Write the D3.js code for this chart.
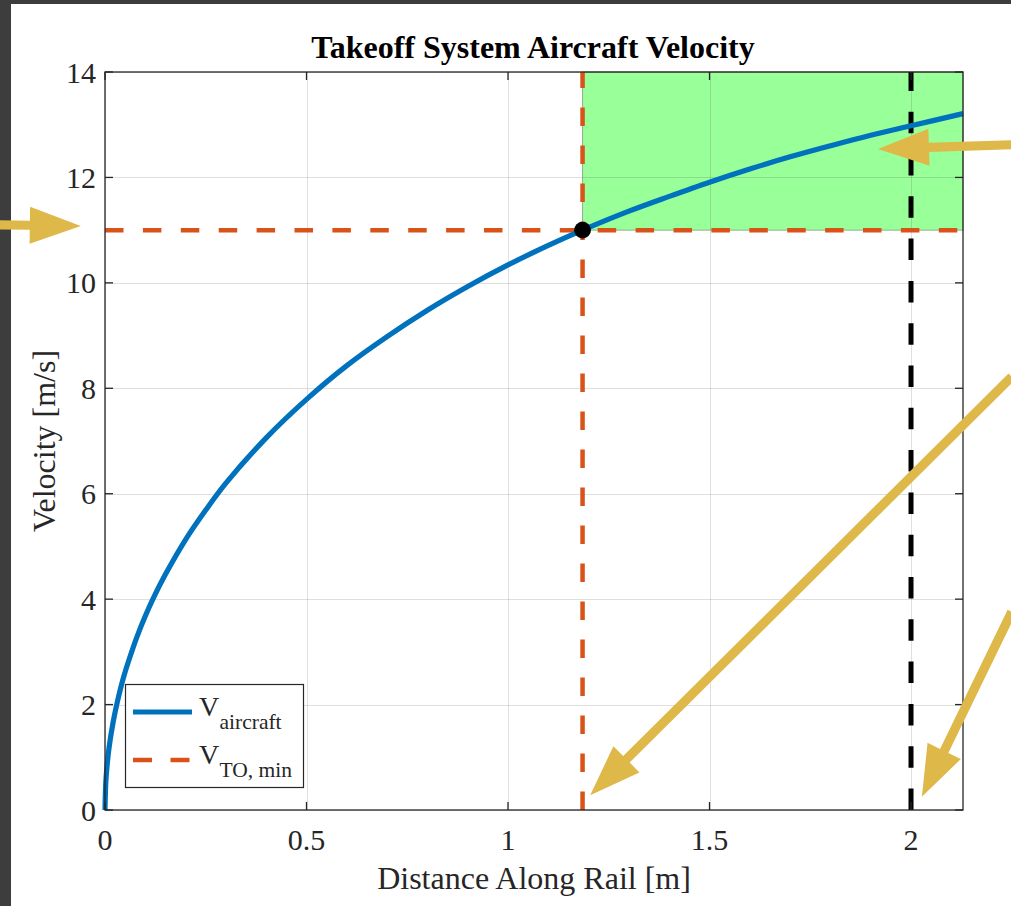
<!DOCTYPE html>
<html>
<head>
<meta charset="utf-8">
<script src="https://cdn.jsdelivr.net/npm/d3@7"></script>
<style>
  html, body { margin: 0; padding: 0; background: #ffffff; }
  svg { display: block; }
  text { font-family: "Liberation Serif", "Times New Roman", serif; }
</style>
</head>
<body>
<svg id="chart" width="1011" height="906"></svg>
<script>
// Distance along the rail [m] and aircraft velocity [m/s]
const railPos  = [0, 0.002, 0.005, 0.01, 0.02, 0.03, 0.045, 0.06, 0.08, 0.1, 0.12, 0.15, 0.2, 0.25, 0.3,
                  0.4, 0.5, 0.6, 0.7, 0.8, 0.9, 1.0, 1.1, 1.185, 1.3, 1.4, 1.5, 1.6, 1.7, 1.8, 1.9, 2.0, 2.129];
const velocity = [0, 0.53, 0.83, 1.18, 1.66, 2.03, 2.49, 2.86, 3.30, 3.68, 4.02, 4.47, 5.13, 5.69, 6.20,
                  7.06, 7.79, 8.43, 8.98, 9.48, 9.93, 10.34, 10.71, 11.0, 11.36, 11.64, 11.91, 12.16, 12.39, 12.60, 12.80, 12.98, 13.21];

// Reference values
const vTakeoffMin = 11;     // minimum takeoff velocity [m/s]
const dTakeoff = 1.185;     // distance where the minimum is reached [m]
const railLength = 2.0;     // rail length [m]

// Axes
const xMax = 2.129;
const yMax = 14;
const xTicks = [0, 0.5, 1, 1.5, 2];
const yTicks = [0, 2, 4, 6, 8, 10, 12, 14];

// Annotation arrows, [tail, tip] in data units
const arrows = [
  [[-0.262, 11.10], [-0.060, 11.08]],
  [[2.250, 12.62], [1.918, 12.54]],
  [[2.250, 8.22], [1.204, 0.28]],
  [[2.250, 3.76], [2.027, 0.25]]
];

const W = 1011, H = 906;
const plot = { left: 105, top: 72, right: 963, bottom: 810 };

const svg = d3.select("#chart");
const x = d3.scaleLinear().domain([0, xMax]).range([plot.left, plot.right]);
const y = d3.scaleLinear().domain([0, yMax]).range([plot.bottom, plot.top]);

svg.append("rect").attr("width", W).attr("height", H).attr("fill", "#ffffff");

// Feasible takeoff region
svg.append("rect")
  .attr("x", x(dTakeoff)).attr("y", y(yMax))
  .attr("width", x(xMax) - x(dTakeoff))
  .attr("height", y(vTakeoffMin) - y(yMax))
  .attr("fill", "#99ff99")
  .attr("stroke", "#8fb08f").attr("stroke-width", 1);

// Grid
const grid = svg.append("g").attr("stroke", "#262626").attr("stroke-opacity", 0.15).attr("stroke-width", 1);
xTicks.forEach(t => grid.append("line")
  .attr("x1", Math.round(x(t)) + 0.5).attr("x2", Math.round(x(t)) + 0.5)
  .attr("y1", plot.top).attr("y2", plot.bottom));
yTicks.forEach(t => grid.append("line")
  .attr("x1", plot.left).attr("x2", plot.right)
  .attr("y1", Math.round(y(t)) + 0.5).attr("y2", Math.round(y(t)) + 0.5));

// Reference lines
const refs = svg.append("g").attr("fill", "none");
refs.append("line")
  .attr("x1", x(0)).attr("x2", x(xMax))
  .attr("y1", y(vTakeoffMin)).attr("y2", y(vTakeoffMin))
  .attr("stroke", "#d95319").attr("stroke-width", 4.5)
  .attr("stroke-dasharray", "18.5 19.4");
refs.append("line")
  .attr("x1", x(dTakeoff)).attr("x2", x(dTakeoff))
  .attr("y1", y(0)).attr("y2", y(yMax))
  .attr("stroke", "#d95319").attr("stroke-width", 4.5)
  .attr("stroke-dasharray", "18.5 19.5");
refs.append("line")
  .attr("x1", x(railLength)).attr("x2", x(railLength))
  .attr("y1", y(0)).attr("y2", y(yMax))
  .attr("stroke", "#000000").attr("stroke-width", 5)
  .attr("stroke-dasharray", "21.5 20.8");

// Velocity curve
const pts = railPos.map((d, i) => [d, velocity[i]]);
svg.append("path")
  .datum(pts)
  .attr("fill", "none")
  .attr("stroke", "#0072bd")
  .attr("stroke-width", 5.2)
  .attr("stroke-linejoin", "round")
  .attr("d", d3.line().x(d => x(d[0])).y(d => y(d[1])).curve(d3.curveCatmullRom.alpha(0.5)));

// Takeoff point
svg.append("circle")
  .attr("cx", x(dTakeoff)).attr("cy", y(vTakeoffMin)).attr("r", 8.4)
  .attr("fill", "#000000");

// Axes box with inward ticks on all sides
const axisColor = "#262626";
const tickLen = 8;
const axes = svg.append("g").attr("stroke", axisColor).attr("stroke-width", 1.3).attr("fill", "none");
axes.append("rect")
  .attr("x", plot.left).attr("y", plot.top)
  .attr("width", plot.right - plot.left).attr("height", plot.bottom - plot.top);
xTicks.forEach(t => {
  axes.append("line").attr("x1", x(t)).attr("x2", x(t)).attr("y1", plot.bottom).attr("y2", plot.bottom - tickLen);
  axes.append("line").attr("x1", x(t)).attr("x2", x(t)).attr("y1", plot.top).attr("y2", plot.top + tickLen);
});
yTicks.forEach(t => {
  axes.append("line").attr("x1", plot.left).attr("x2", plot.left + tickLen).attr("y1", y(t)).attr("y2", y(t));
  axes.append("line").attr("x1", plot.right).attr("x2", plot.right - tickLen).attr("y1", y(t)).attr("y2", y(t));
});

// Tick labels
const fmt = d => String(d);
svg.append("g").selectAll("text").data(xTicks).join("text")
  .attr("x", d => x(d)).attr("y", 850)
  .attr("text-anchor", "middle")
  .attr("font-size", 30).attr("fill", axisColor)
  .text(fmt);
svg.append("g").selectAll("text").data(yTicks).join("text")
  .attr("x", 96).attr("y", d => y(d))
  .attr("dy", "0.35em")
  .attr("text-anchor", "end")
  .attr("font-size", 30).attr("fill", axisColor)
  .text(fmt);

// Axis labels and title
svg.append("text")
  .attr("x", (plot.left + plot.right) / 2).attr("y", 889)
  .attr("text-anchor", "middle").attr("font-size", 32).attr("fill", axisColor)
  .text("Distance Along Rail [m]");
svg.append("text")
  .attr("transform", `translate(55, ${(plot.top + plot.bottom) / 2}) rotate(-90)`)
  .attr("text-anchor", "middle").attr("font-size", 32).attr("fill", axisColor)
  .text("Velocity [m/s]");
svg.append("text")
  .attr("x", (plot.left + plot.right) / 2 - 1).attr("y", 58)
  .attr("text-anchor", "middle").attr("font-size", 32).attr("font-weight", "bold").attr("fill", "#000000")
  .text("Takeoff System Aircraft Velocity");

// Legend
const legend = svg.append("g");
legend.append("rect")
  .attr("x", 125.5).attr("y", 684.5).attr("width", 178).attr("height", 103)
  .attr("fill", "#ffffff").attr("stroke", axisColor).attr("stroke-width", 1.2);
const legendItems = [
  { main: "V", sub: "aircraft", color: "#0072bd", dash: null, yLine: 712 },
  { main: "V", sub: "TO, min", color: "#d95319", dash: "19 18.5", yLine: 760 }
];
legendItems.forEach(it => {
  legend.append("line")
    .attr("x1", 133).attr("x2", 192).attr("y1", it.yLine).attr("y2", it.yLine)
    .attr("stroke", it.color).attr("stroke-width", it.dash ? 4.5 : 5)
    .attr("stroke-dasharray", it.dash);
  legend.append("text")
    .attr("x", 199).attr("y", it.yLine + 3.5)
    .attr("font-size", 28).attr("fill", axisColor)
    .text(it.main);
  legend.append("text")
    .attr("x", 219.5).attr("y", it.yLine + 16.5)
    .attr("font-size", 21.5).attr("fill", axisColor)
    .text(it.sub);
});

// Frame band on the left and top edges
svg.append("rect").attr("x", 0).attr("y", 0).attr("width", 11).attr("height", H).attr("fill", "#3d3d3d");
svg.append("rect").attr("x", 0).attr("y", 0).attr("width", W).attr("height", 4).attr("fill", "#3d3d3d");

// Annotation arrows
const gold = "#dfb84a";
const headLen = 51, headHalf = 18.5, shaftHalf = 4.6;
arrows.forEach(([tail, tip]) => {
  const tx = x(tail[0]), ty = y(tail[1]);
  const hx = x(tip[0]), hy = y(tip[1]);
  const len = Math.hypot(hx - tx, hy - ty);
  const ux = (hx - tx) / len, uy = (hy - ty) / len;
  const px = -uy, py = ux;
  const bx = hx - ux * headLen, by = hy - uy * headLen;
  const poly = [
    [tx + px * shaftHalf, ty + py * shaftHalf],
    [bx + px * shaftHalf, by + py * shaftHalf],
    [bx + px * headHalf, by + py * headHalf],
    [hx, hy],
    [bx - px * headHalf, by - py * headHalf],
    [bx - px * shaftHalf, by - py * shaftHalf],
    [tx - px * shaftHalf, ty - py * shaftHalf]
  ];
  svg.append("path")
    .attr("d", "M" + poly.map(p => p.join(",")).join("L") + "Z")
    .attr("fill", gold);
});
</script>
</body>
</html>
